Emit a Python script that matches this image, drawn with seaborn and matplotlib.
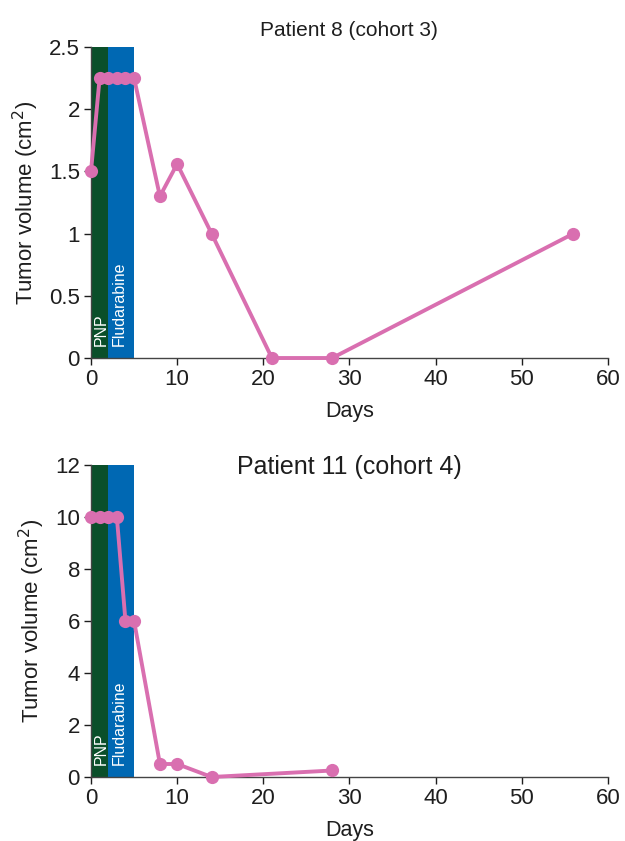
import matplotlib
matplotlib.use("Agg")
import matplotlib.pyplot as plt
import seaborn as sns
import pandas as pd

sns.set_theme(style="ticks")
plt.rcParams['font.family'] = ['Liberation Sans', 'DejaVu Sans']

# Data
days_p8 = [0, 1, 2, 3, 4, 5, 8, 10, 14, 21, 28, 56]
vol_p8 = [1.5, 2.25, 2.25, 2.25, 2.25, 2.25, 1.3, 1.56, 1.0, 0, 0, 1.0]
days_p11 = [0, 1, 2, 3, 4, 5, 8, 10, 14, 28]
vol_p11 = [10, 10, 10, 10, 6, 6, 0.5, 0.5, 0, 0.25]

pnp_days = (0, 2)
flu_days = (2, 5)

titles = ["Patient 8 (cohort 3)", "Patient 11 (cohort 4)"]
title_sizes = [15, 18]
ylims = [2.5, 12]
yticks = [[0, 0.5, 1, 1.5, 2, 2.5], [0, 2, 4, 6, 8, 10, 12]]
ytick_labels = [["0", "0.5", "1", "1.5", "2", "2.5"], ["0", "2", "4", "6", "8", "10", "12"]]

green = "#0a4f2a"
blue = "#0068b3"
pink = "#d96fb0"
txt = "#1e1e1e"

fig = plt.figure(figsize=(6.25, 8.41), dpi=100)
ax_top = fig.add_axes([0.1456, 0.5743, 0.827, 0.3698])
ax_bot = fig.add_axes([0.1456, 0.0761, 0.827, 0.371])

series = [(days_p8, vol_p8), (days_p11, vol_p11)]
for i, ax in enumerate([ax_top, ax_bot]):
    ax.axvspan(*pnp_days, color=green, lw=0, zorder=1)
    ax.axvspan(*flu_days, color=blue, lw=0, zorder=1)
    df = pd.DataFrame({"Days": series[i][0], "Vol": series[i][1]})
    sns.lineplot(data=df, x="Days", y="Vol", ax=ax, color=pink, lw=2.8,
                 marker="o", markersize=9.5, markeredgewidth=0, zorder=3,
                 clip_on=False)
    ax.set_xlim(0, 60)
    ax.set_ylim(0, ylims[i])
    ax.set_xticks(range(0, 61, 10))
    ax.set_yticks(yticks[i])
    ax.set_yticklabels(ytick_labels[i])
    ax.tick_params(labelsize=16, colors=txt, length=5, width=1, pad=3)
    ax.set_xlabel("Days", fontsize=15.5, color=txt, labelpad=8)
    ax.set_ylabel("Tumor volume (cm$^2$)", fontsize=16, color=txt, labelpad=6)
    sns.despine(ax=ax)
    for s in ["left", "bottom"]:
        ax.spines[s].set_color("#444444")
        ax.spines[s].set_linewidth(1)
    ax.text(0.35, ylims[i] * 0.04, "PNP", rotation=90, color="white",
            fontsize=11.5, ha="left", va="bottom", zorder=2)
    ax.text(2.45, ylims[i] * 0.04, "Fludarabine", rotation=90, color="white",
            fontsize=11.5, ha="left", va="bottom", zorder=2)

ax_top.set_title(titles[0], fontsize=title_sizes[0], color=txt, pad=8)
ax_bot.set_title(titles[1], fontsize=title_sizes[1], color=txt, y=0.945)

plt.savefig("out.png", dpi=100)
